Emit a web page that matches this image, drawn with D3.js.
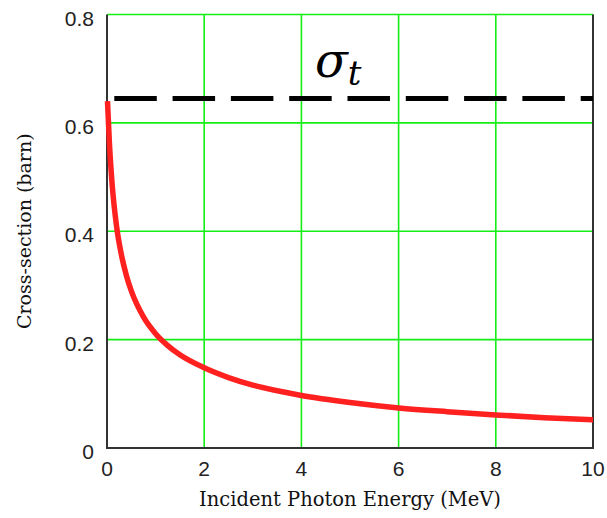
<!DOCTYPE html>
<html>
<head>
<meta charset="utf-8">
<script src="https://cdn.jsdelivr.net/npm/d3@7"></script>
<style>
  body { margin: 0; background: #fff; }
</style>
</head>
<body>
<div id="chart"></div>
<script>
// values (barn per electron vs MeV)
var energy = [0.01, 0.05, 0.1, 0.2, 0.3, 0.4, 0.5, 0.75, 1, 1.25, 1.5, 2, 2.5, 3, 4, 5, 6, 7, 8, 9, 10];
var sigma  = [0.640, 0.562, 0.493, 0.407, 0.355, 0.318, 0.290, 0.242, 0.211, 0.189, 0.172, 0.148, 0.130, 0.116, 0.097, 0.084, 0.074, 0.067, 0.061, 0.056, 0.052];
var thomson = 0.645;
var thomsonRange = [0.15, 10];
var xTicks = [0, 2, 4, 6, 8, 10];
var yTicks = [0, 0.2, 0.4, 0.6, 0.8];
var yTickLabels = ["0", "0.2", "0.4", "0.6", "0.8"];

var width = 607, height = 518;
var margin = {top: 14.5, right: 14, bottom: 70, left: 107};

var svg = d3.select("#chart").append("svg")
    .attr("width", width)
    .attr("height", height);

var x = d3.scaleLinear().domain([0, 10]).range([margin.left, width - margin.right]);
var y = d3.scaleLinear().domain([0, 0.8]).range([height - margin.bottom, margin.top]);

// grid
svg.append("g").selectAll("line.v")
    .data(xTicks.slice(1))
    .enter().append("line")
    .attr("x1", function (d) { return x(d); })
    .attr("x2", function (d) { return x(d); })
    .attr("y1", y(0)).attr("y2", y(0.8))
    .attr("stroke", "#14ee14").attr("stroke-width", 1.6);

svg.append("g").selectAll("line.h")
    .data(yTicks.slice(1))
    .enter().append("line")
    .attr("x1", x(0)).attr("x2", x(10))
    .attr("y1", function (d) { return y(d); })
    .attr("y2", function (d) { return y(d); })
    .attr("stroke", "#14ee14").attr("stroke-width", 1.6);

// axis frame: left, bottom, right in dark grey
svg.append("path")
    .attr("d", "M" + x(0) + "," + y(0.8) + "V" + y(0) + "H" + x(10) + "V" + y(0.8))
    .attr("fill", "none")
    .attr("stroke", "#333")
    .attr("stroke-width", 2);

// tick labels
svg.append("g").selectAll("text")
    .data(xTicks)
    .enter().append("text")
    .attr("x", function (d) { return x(d); })
    .attr("y", y(0) + 28)
    .attr("text-anchor", "middle")
    .style("font-family", "Liberation Sans, Arial, sans-serif")
    .style("font-size", "21px")
    .attr("fill", "#222")
    .text(function (d) { return d; });

svg.append("g").selectAll("text")
    .data(yTicks)
    .enter().append("text")
    .attr("x", 94)
    .attr("y", function (d) { return y(d) + 11; })
    .attr("text-anchor", "end")
    .style("font-family", "Liberation Sans, Arial, sans-serif")
    .style("font-size", "21px")
    .attr("fill", "#222")
    .text(function (d, i) { return yTickLabels[i]; });

// axis titles
svg.append("text")
    .attr("x", (x(0) + x(10)) / 2)
    .attr("y", 506)
    .attr("text-anchor", "middle")
    .style("font-family", "DejaVu Serif, serif")
    .style("font-size", "19.5px")
    .attr("fill", "#111")
    .text("Incident Photon Energy (MeV)");

svg.append("text")
    .attr("transform", "translate(31," + ((y(0) + y(0.8)) / 2) + ") rotate(-90)")
    .attr("text-anchor", "middle")
    .style("font-family", "DejaVu Serif, serif")
    .style("font-size", "19px")
    .attr("fill", "#111")
    .text("Cross-section (barn)");

// Thomson line
svg.append("line")
    .attr("x1", x(thomsonRange[0])).attr("x2", x(thomsonRange[1]))
    .attr("y1", y(thomson)).attr("y2", y(thomson))
    .attr("stroke", "#000")
    .attr("stroke-width", 5)
    .attr("stroke-dasharray", "42.5,15.8");

var lbl = svg.append("text")
    .attr("x", 315)
    .attr("y", 77)
    .style("font-family", "DejaVu Serif, serif")
    .style("font-style", "italic")
    .attr("fill", "#000");
lbl.append("tspan").style("font-size", "48px").text("σ");
lbl.append("tspan").style("font-size", "34px").attr("dy", 8).text("t");

// cross-section curve
var pts = energy.map(function (e, i) { return [e, sigma[i]]; });
var line = d3.line()
    .x(function (d) { return x(d[0]); })
    .y(function (d) { return y(d[1]); })
    .curve(d3.curveMonotoneX);

svg.append("path")
    .datum(pts)
    .attr("d", line)
    .attr("fill", "none")
    .attr("stroke", "#ff2020")
    .attr("stroke-width", 5.5);
</script>
</body>
</html>
